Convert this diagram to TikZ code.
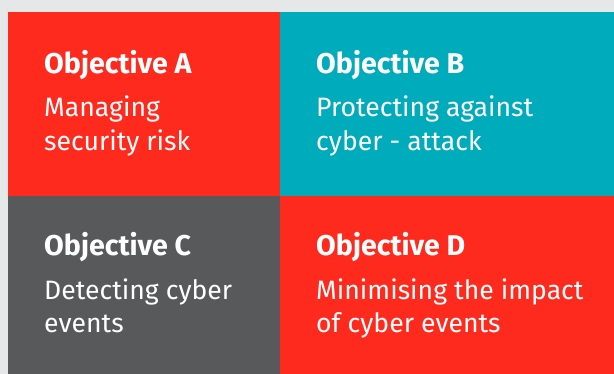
\documentclass[tikz,border=0pt]{standalone}
\usepackage{fontspec}
\setmainfont{Fira Sans}
\definecolor{objred}{RGB}{255,42,30}
\definecolor{objteal}{RGB}{0,171,187}
\definecolor{objgrey}{RGB}{88,89,91}
\definecolor{pagegrey}{RGB}{230,231,232}

\begin{document}
\begin{tikzpicture}[x=1pt,y=-1pt]
\tikzset{quad/.style={draw=none,inner sep=0pt},
  title/.style={anchor=base west,inner sep=0pt,text=white,font=\fontsize{28.6}{34}\selectfont\bfseries},
  body/.style={anchor=base west,inner sep=0pt,text=white,font=\fontsize{26.6}{34}\selectfont}}

\fill[pagegrey] (0,0) rectangle (614,374);
\useasboundingbox (0,0) rectangle (614,374);

% the four blocks
\fill[objred]  (8,12) rectangle (279.5,196.5);
\fill[objteal] (279.5,12) rectangle (614,196.5);
\fill[objgrey] (8,196.5) rectangle (279.5,374);
\fill[objred]  (279.5,196.5) rectangle (614,374);

\node[title] (tA) at (44,73.5) {Objective A};
\node[body] (a1) at (44,117) {Managing};
\node[body] (a2) at (44,151) {security risk};

\node[title] (tB) at (316,73.5) {Objective B};
\node[body] (b1) at (316,117) {Protecting against};
\node[body] (b2) at (316,151) {cyber - attack};

\node[title] (tC) at (44,256) {Objective C};
\node[body] (c1) at (44,300) {Detecting cyber};
\node[body] (c2) at (44,333) {events};

\node[title] (tD) at (316,256) {Objective D};
\node[body] (d1) at (316,300) {Minimising the impact};
\node[body] (d2) at (316,333) {of cyber events};
\end{tikzpicture}
\end{document}
